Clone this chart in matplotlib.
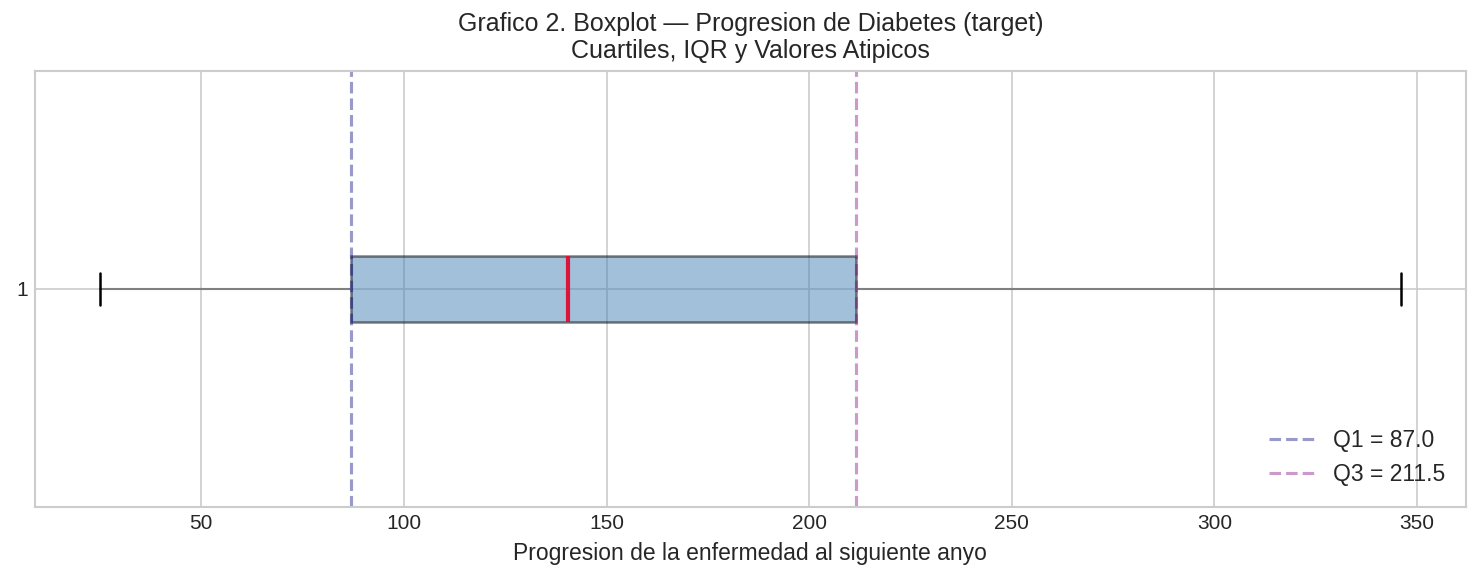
import matplotlib
matplotlib.use("Agg")
import matplotlib.pyplot as plt

# resumen del target (diabetes)
etiquetas = ["1"]
minimo = [25.0]
q1 = [87.0]
mediana = [140.5]
q3 = [211.5]
maximo = [346.0]

plt.style.use("seaborn-v0_8-whitegrid")
plt.rcParams['font.family'] = ['Liberation Sans', 'DejaVu Sans']

fig, ax = plt.subplots(1, 1, figsize=(1480 / 150, 578 / 150), dpi=150)
fig.subplots_adjust(left=0.0236, right=0.9905, top=0.8772, bottom=0.1228)

stats = []
for i in range(len(etiquetas)):
    stats.append({
        "label": etiquetas[i],
        "whislo": minimo[i],
        "q1": q1[i],
        "med": mediana[i],
        "q3": q3[i],
        "whishi": maximo[i],
        "fliers": [],
    })

ax.bxp(stats, vert=False, widths=0.15, patch_artist=True, showfliers=True,
       boxprops=dict(facecolor="steelblue", alpha=0.5, edgecolor="black", linewidth=1.2),
       medianprops=dict(color="crimson", linewidth=2.0),
       whiskerprops=dict(color="gray", linewidth=1.0),
       capprops=dict(color="black", linewidth=1.2))

ax.axvline(q1[0], color="navy", alpha=0.4, linestyle="--", linewidth=1.5, label=f"Q1 = {q1[0]}")
ax.axvline(q3[0], color="purple", alpha=0.4, linestyle="--", linewidth=1.5, label=f"Q3 = {q3[0]}")

ax.set_title("Grafico 2. Boxplot \u2014 Progresion de Diabetes (target)\nCuartiles, IQR y Valores Atipicos",
             fontsize=12)
ax.set_xlabel("Progresion de la enfermedad al siguiente anyo", fontsize=11)
ax.tick_params(labelsize=10)
ax.legend(loc="lower right", frameon=False, fontsize=11)

plt.savefig("out.png", dpi=150)
